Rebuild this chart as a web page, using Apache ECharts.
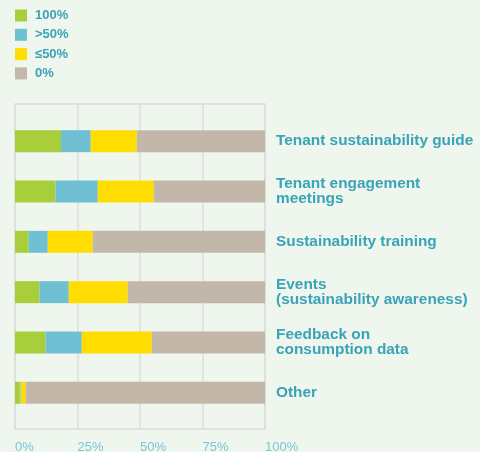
<!DOCTYPE html>
<html>
<head>
<meta charset="utf-8">
<script src="https://cdn.jsdelivr.net/npm/echarts@6/dist/echarts.min.js"></script>
<style>
  html, body { margin: 0; padding: 0; background: #eff6ee; }
  #chart { width: 480px; height: 452px; }
</style>
</head>
<body>
<div id="chart"></div>
<script>
// Engagement activities, share of properties by coverage level
const categories = [
  'Tenant sustainability guide',
  'Tenant engagement\nmeetings',
  'Sustainability training',
  'Events\n(sustainability awareness)',
  'Feedback on\nconsumption data',
  'Other'
];
const legendNames = ['100%', '>50%', '≤50%', '0%'];
const full100 = [18.4, 16.2, 5.5, 9.8, 12.2, 1.9];
const over50  = [11.9, 16.9, 7.6, 11.7, 14.5, 0.4];
const upTo50  = [18.4, 22.4, 18.0, 23.6, 28.0, 2.0];
const zero    = [51.3, 44.5, 68.9, 54.9, 45.3, 95.7];
const xTicks  = [0, 25, 50, 75, 100];

const colors = ['#a8cf3b', '#70c0d3', '#ffdd00', '#c3b7aa'];
const seriesValues = [full100, over50, upTo50, zero];
const fontFamily = '"Liberation Sans", Arial, sans-serif';

const chart = echarts.init(document.getElementById('chart'), null, { renderer: 'canvas' });

chart.setOption({
  backgroundColor: '#eff6ee',
  animation: false,
  color: colors,
  legend: {
    orient: 'vertical',
    left: 15,
    top: 9,
    padding: 0,
    itemWidth: 12,
    itemHeight: 12,
    itemGap: 6.3,
    icon: 'rect',
    selectedMode: false,
    textStyle: { color: '#3aa3b8', fontWeight: 'bold', fontSize: 13, fontFamily: fontFamily, padding: [0, 0, 0, 3] },
    data: legendNames
  },
  grid: [
    // bars
    { left: 15, right: 215, top: 116, bottom: 34, outerBoundsMode: 'none', containLabel: false },
    // framed background with vertical gridlines
    { left: 15, right: 215, top: 104, bottom: 23, outerBoundsMode: 'none', containLabel: false,
      show: true, borderColor: '#dcdedb', borderWidth: 1.5, z: 0 }
  ],
  xAxis: [
    {
      gridIndex: 0, type: 'value', min: xTicks[0], max: xTicks[xTicks.length - 1], interval: 25,
      axisLine: { show: false }, axisTick: { show: false }, axisLabel: { show: false }, splitLine: { show: false }
    },
    {
      gridIndex: 1, type: 'value', min: xTicks[0], max: xTicks[xTicks.length - 1], interval: 25,
      axisLine: { show: false }, axisTick: { show: false },
      splitLine: { show: true, lineStyle: { color: '#dcdedb', width: 1.5 } },
      axisLabel: {
        formatter: '{value}%', align: 'left', margin: 12,
        color: '#7ac6d6', fontSize: 13, fontFamily: fontFamily
      }
    }
  ],
  yAxis: [
    {
      gridIndex: 0, type: 'category', data: categories, inverse: true, position: 'right',
      axisLine: { show: false }, axisTick: { show: false }, splitLine: { show: false },
      axisLabel: {
        align: 'left', margin: 11, color: '#3aa3b8', fontWeight: 'bold',
        fontSize: 15.4, lineHeight: 15, fontFamily: fontFamily
      }
    },
    {
      gridIndex: 1, type: 'value', min: 0, max: 1, show: false
    }
  ],
  series: legendNames.map((name, i) => ({
    name: name,
    type: 'bar',
    stack: 'share',
    xAxisIndex: 0,
    yAxisIndex: 0,
    barWidth: 22,
    itemStyle: { color: colors[i] },
    data: seriesValues[i],
    z: 3
  }))
});
</script>
</body>
</html>
